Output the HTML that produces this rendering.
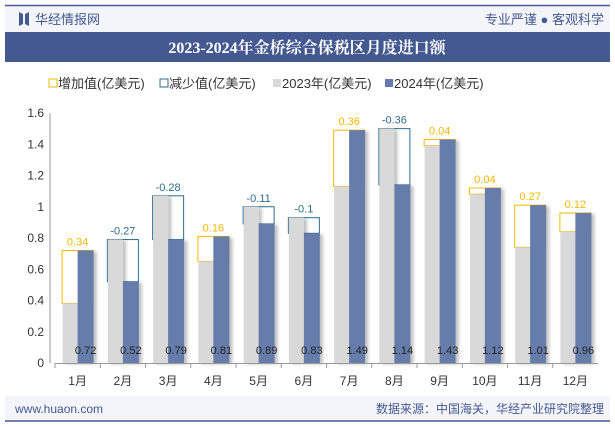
<!DOCTYPE html>
<html><head><meta charset="utf-8"><style>
body{margin:0;width:615px;height:427px;background:#fff;font-family:"Liberation Sans","Noto Sans CJK SC",sans-serif;overflow:hidden}
</style></head><body>
<svg width="615" height="427" style="position:absolute;left:0;top:0">
<defs><filter id="sh" x="-20%" y="-5%" width="160%" height="110%"><feDropShadow dx="3" dy="1" stdDeviation="1.5" flood-color="#000" flood-opacity="0.25"/></filter></defs>
<rect x="5" y="6" width="605" height="26" fill="#f3f5fa"/>
<line x1="5" y1="5.5" x2="610" y2="5.5" stroke="#44598f" stroke-width="1.5"/>
<path d="M19 12 L23 14 L23 24 L19 26 Z M25 14 L29 12 L29 26 L25 24 Z" fill="#44598f"/>
<text x="35" y="24" font-size="13" fill="#44598f">华经情报网</text>
<text x="604" y="24" font-size="13" fill="#44598f" text-anchor="end">专业严谨 ● 客观科学</text>
<rect x="5" y="32" width="605" height="30" fill="#44598f"/>
<text x="307" y="53" font-size="16" font-weight="bold" fill="#fff" text-anchor="middle" font-family="Liberation Serif,Noto Serif CJK SC,serif">2023-2024年金桥综合保税区月度进口额</text>
<g font-size="13" fill="#333">
<rect x="49" y="79" width="8" height="8" fill="#fff" stroke="#f5b800"/><text x="58" y="88">增加值(亿美元)</text>
<rect x="160" y="79" width="8" height="8" fill="#fff" stroke="#2e6e8e"/><text x="169" y="88">减少值(亿美元)</text>
<rect x="273" y="79" width="8" height="8" fill="#d9d9d9"/><text x="282" y="88">2023年(亿美元)</text>
<rect x="385" y="79" width="8" height="8" fill="#667bab"/><text x="394" y="88">2024年(亿美元)</text>
</g>
<g id="plot"></g>
<rect x="5" y="396" width="605" height="24" fill="#f3f5fa"/>
<line x1="5" y1="421" x2="610" y2="421" stroke="#44598f" stroke-width="1.5"/>
<text x="15" y="413" font-size="12" fill="#44598f">www.huaon.com</text>
<text x="604" y="413" font-size="12" fill="#44598f" text-anchor="end">数据来源：中国海关，华经产业研究院整理</text>
</svg>
<script>
const months=["1月","2月","3月","4月","5月","6月","7月","8月","9月","10月","11月","12月"];
const v2023=[0.38,0.79,1.07,0.65,1.00,0.93,1.13,1.50,1.39,1.08,0.74,0.84];
const v2024=[0.72,0.52,0.79,0.81,0.89,0.83,1.49,1.14,1.43,1.12,1.01,0.96];
const diffLabels=["0.34","-0.27","-0.28","0.16","-0.11","-0.1","0.36","-0.36","0.04","0.04","0.27","0.12"];
const yTicks=[0,0.2,0.4,0.6,0.8,1,1.2,1.4,1.6];
const ns="http://www.w3.org/2000/svg",g=document.getElementById('plot');
const x0=55,x1=598,yb=363,yt=113,step=(x1-x0)/months.length;
const y=v=>yb-(v/1.6)*(yb-yt);
function el(t,a,txt){const e=document.createElementNS(ns,t);for(const k in a)e.setAttribute(k,a[k]);if(txt!=null)e.textContent=txt;g.appendChild(e);return e;}
yTicks.forEach(t=>{const e=el('text',{x:44,y:y(t)+4,'font-size':12,fill:'#333','text-anchor':'end'},String(t));

});
el('line',{x1:50,y1:y(1.6),x2:50,y2:yb,stroke:'#999'});
months.forEach((m,i)=>{
 const c=x0+step*(i+0.5);
 const a=v2023[i],b=v2024[i],inc=b>=a;
 const top=Math.min(y(a),y(b)),h=Math.abs(y(a)-y(b));
 const box=el('rect',{x:c-15.5,y:top,width:31,height:Math.max(h,0.5),fill:'#fff',stroke:inc?'#f5b800':'#2e6e8e','stroke-width':1});
 
 
 const s1=el('rect',{x:c-15,y:y(a),width:15,height:yb-y(a),fill:'#d9d9d9',filter:'url(#sh)'});
 
 
 const s2=el('rect',{x:c,y:y(b),width:16,height:yb-y(b),fill:'#667bab',filter:'url(#sh)'});
 
 
 const dl=el('text',{x:c,y:top-5,'font-size':11,fill:inc?'#f5b800':'#2e6e8e','text-anchor':'middle'},diffLabels[i]);
 
 
 const vl=el('text',{x:c+8,y:354,'font-size':11,fill:'#222','text-anchor':'middle'},b.toFixed(2));
 
 
 const xl=el('text',{x:c,y:385,'font-size':12,fill:'#333','text-anchor':'middle'},m);
 
 
 el('line',{x1:x0+step*i,y1:yb,x2:x0+step*i,y2:yb+5,stroke:'#999'});
});
el('line',{x1:x0,y1:yb+0.5,x2:x1,y2:yb+0.5,stroke:'#999'});
</script>
</body></html>
